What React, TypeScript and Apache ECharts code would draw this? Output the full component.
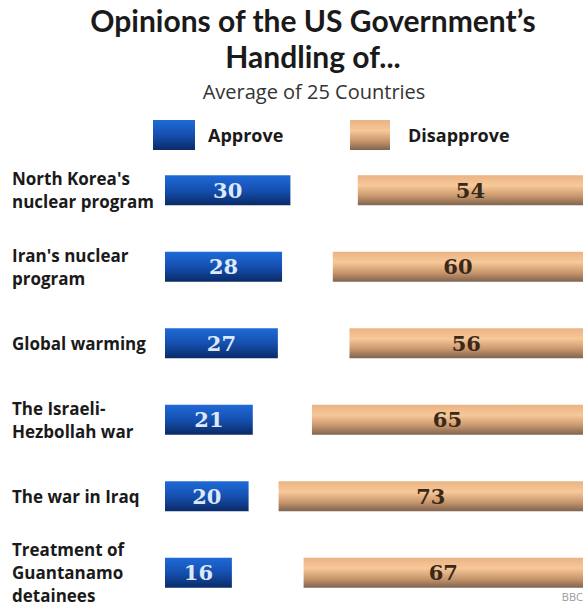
import React, { useEffect, useRef } from "react";
import * as echarts from "echarts";

const categories = [
  "North Korea's\nnuclear program",
  "Iran's nuclear\nprogram",
  "Global warming",
  "The Israeli-\nHezbollah war",
  "The war in Iraq",
  "Treatment of\nGuantanamo\ndetainees",
];
const approve = [30, 28, 27, 21, 20, 16];
const disapprove = [54, 60, 56, 65, 73, 67];
const seriesNames = ["Approve", "Disapprove"];

const TITLE_FONT = "Lato, 'Open Sans', sans-serif";
const SANS = "'Open Sans', Lato, 'DejaVu Sans', sans-serif";
const SERIF = "'DejaVu Serif', 'Liberation Serif', serif";

export default function App() {
  const ref = useRef<HTMLDivElement>(null);
  useEffect(() => {
    if (!ref.current) return;
    const chart = echarts.init(ref.current, undefined, { renderer: "svg" });
    const blue = new echarts.graphic.LinearGradient(0, 0, 0, 1, [
      { offset: 0, color: "#1f6ad8" },
      { offset: 0.5, color: "#1550b0" },
      { offset: 1, color: "#0a2a66" },
    ]);
    const tan = new echarts.graphic.LinearGradient(0, 0, 0, 1, [
      { offset: 0, color: "#eab384" },
      { offset: 0.35, color: "#f7c898" },
      { offset: 0.7, color: "#c8966c" },
      { offset: 1, color: "#7e6450" },
    ]);
    const top = 152;
    const height = 460;
    chart.setOption({
      animation: false,
      backgroundColor: "#ffffff",
      title: [
        {
          text: "Opinions of the US Government\u2019s\nHandling of...",
          left: 313,
          textAlign: "center",
          top: 2,
          padding: 0,
          textStyle: {
            fontFamily: TITLE_FONT,
            fontWeight: 700,
            fontSize: 30,
            lineHeight: 36,
            color: "#1a1a1a",
          },
        },
        {
          text: "Average of 25 Countries",
          left: 314,
          textAlign: "center",
          top: 81,
          padding: 0,
          textStyle: {
            fontFamily: SANS,
            fontWeight: 400,
            fontSize: 20,
            color: "#333333",
          },
        },
        {
          text: "BBC",
          right: 0,
          top: 591,
          padding: 0,
          textStyle: { fontFamily: SANS, fontWeight: 400, fontSize: 11, color: "#999999" },
        },
      ],
      legend: [
        {
          data: [{ name: seriesNames[0], icon: "rect" }],
          left: 153,
          top: 120,
          padding: 0,
          itemWidth: 42,
          itemHeight: 30,
          itemStyle: { color: blue },
          textStyle: {
            fontFamily: SANS,
            fontWeight: 700,
            fontSize: 18,
            color: "#1a1a1a",
            padding: [0, 0, 0, 8],
          },
        },
        {
          data: [{ name: seriesNames[1], icon: "rect" }],
          left: 350,
          top: 120,
          padding: 0,
          itemWidth: 40,
          itemHeight: 30,
          itemStyle: { color: tan },
          textStyle: {
            fontFamily: SANS,
            fontWeight: 700,
            fontSize: 18,
            color: "#1a1a1a",
            padding: [0, 0, 0, 13],
          },
        },
      ],
      grid: [
        { left: 165, top, width: 420, height },
        { left: 166, top, width: 417, height },
      ],
      xAxis: [
        { type: "value", gridIndex: 0, min: 0, max: 100, show: false },
        { type: "value", gridIndex: 1, min: 0, max: 100, inverse: true, show: false },
      ],
      yAxis: [
        {
          type: "category",
          gridIndex: 0,
          data: categories,
          inverse: true,
          axisLine: { show: false },
          axisTick: { show: false },
          splitLine: { show: false },
          axisLabel: {
            align: "left",
            margin: 153,
            fontFamily: SANS,
            fontWeight: 700,
            fontSize: 17,
            lineHeight: 23,
            color: "#1a1a1a",
          },
        },
        {
          type: "category",
          gridIndex: 1,
          data: categories,
          inverse: true,
          show: false,
        },
      ],
      series: [
        {
          name: seriesNames[0],
          type: "bar",
          xAxisIndex: 0,
          yAxisIndex: 0,
          data: approve,
          barWidth: 30,
          itemStyle: { color: blue },
          label: {
            show: true,
            position: "inside",
            fontFamily: SERIF,
            fontWeight: 700,
            fontSize: 21,
            color: "#dce9fa",
          },
        },
        {
          name: seriesNames[1],
          type: "bar",
          xAxisIndex: 1,
          yAxisIndex: 1,
          data: disapprove,
          barWidth: 30,
          itemStyle: { color: tan },
          label: {
            show: true,
            position: "inside",
            fontFamily: SERIF,
            fontWeight: 700,
            fontSize: 21,
            color: "#3a2818",
          },
        },
      ],
    });
    return () => chart.dispose();
  }, []);
  return (
    <div
      ref={ref}
      style={{ position: "fixed", left: 0, top: 0, width: 583, height: 611 }}
    />
  );
}
